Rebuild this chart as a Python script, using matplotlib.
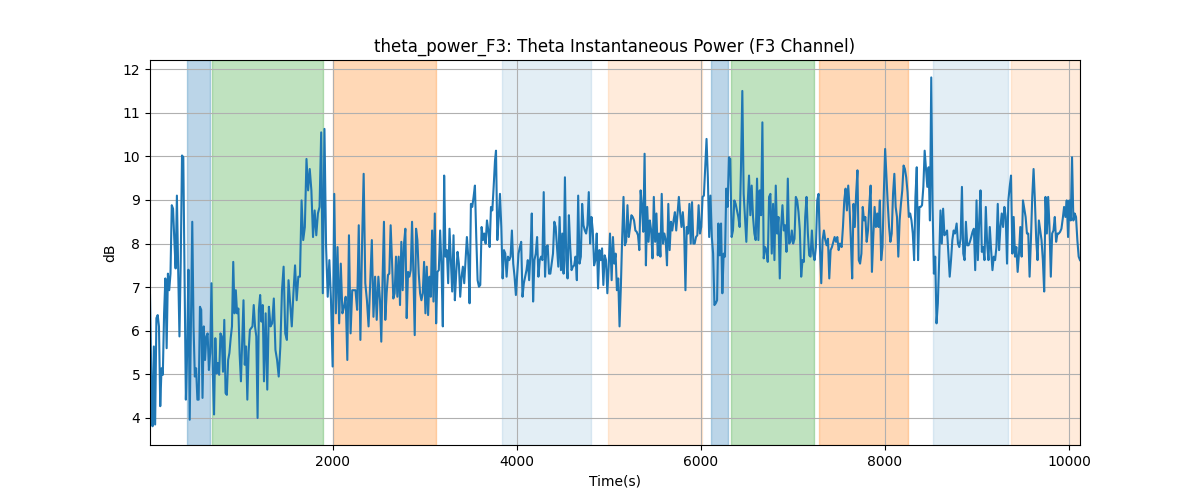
import matplotlib
matplotlib.use("Agg")
import matplotlib.pyplot as plt
import numpy as np

# theta power in dB in eight consecutive chunks
seg1 = [6.82, 4.95, 3.81, 5.64, 3.85, 6.29, 6.36, 6.10, 4.27, 5.14, 4.99, 6.40, 7.20, 5.60, 7.31, 6.93,
        7.31, 8.88, 8.80, 8.08, 7.43, 9.10, 7.40, 5.87, 7.60, 10.02, 9.98, 7.24, 4.42, 5.49, 7.40, 3.96,
        6.25, 8.50, 6.10, 4.95, 5.14, 4.42, 4.42, 6.55, 6.48, 4.46, 6.10, 5.33, 5.87, 5.94, 5.10, 5.49,
        7.09, 5.10, 4.08, 5.83, 5.02, 5.26, 4.99, 5.94, 5.87, 5.06, 6.25, 4.57, 4.53, 5.33, 5.49, 5.83,
        6.10, 7.58, 6.40, 6.93, 6.40, 6.51, 5.45, 4.84, 5.79, 6.70, 5.22, 5.64, 4.42, 5.52, 6.02, 6.06,
        6.10, 6.59, 6.10, 5.87, 4.00, 6.48, 6.82, 6.21, 6.59, 4.84]
seg2 = [6.40, 4.65, 6.55, 6.10, 6.17, 6.74, 5.56, 5.33, 4.95, 5.64, 6.93, 7.47, 5.94, 5.79, 7.16, 6.63,
        6.10, 6.86, 7.50, 6.70, 7.24, 7.24, 8.99, 8.08, 8.38, 9.94, 9.22, 9.71, 9.22, 8.15, 8.76, 8.19,
        8.69, 8.84, 10.55, 6.86, 10.63, 7.92, 6.78, 7.62, 6.70, 5.18, 9.14, 6.40, 7.92, 6.17, 7.54, 6.40,
        6.55, 6.78, 5.33, 8.19, 5.94, 6.93, 6.93, 6.93, 6.48, 8.42, 5.79, 7.96, 9.60, 7.09, 6.70, 6.10,
        7.09, 8.08, 6.32, 7.24, 6.25, 7.24, 6.70]
seg3 = [5.75, 7.24, 8.50, 6.25, 6.86, 7.28, 7.31, 8.42, 7.62, 6.74, 6.86, 7.70, 6.78, 7.70, 6.59, 8.04,
        6.93, 8.00, 8.34, 6.29, 7.35, 7.24, 7.39, 8.50, 7.31, 5.90, 8.34, 8.08, 7.31, 6.86, 6.70, 6.86,
        7.58, 6.40, 7.47, 6.36, 7.24, 6.78, 8.30, 6.67, 8.69, 6.17, 7.35, 7.39, 8.30, 7.47, 6.10, 9.56,
        7.70, 7.85, 7.09, 8.34, 7.62, 6.90, 8.19, 6.70, 7.31, 7.81, 7.54, 6.78, 7.24, 7.47, 7.09, 7.62,
        8.15, 7.70, 6.63, 8.91, 8.84, 9.07, 9.33, 8.15, 7.16, 7.01, 7.05, 8.38, 8.08, 8.23, 8.00, 8.53,
        8.30, 7.92, 8.84, 8.76, 9.30, 9.90]
seg4 = [10.13, 8.08, 8.57, 9.14, 8.38, 7.20, 7.85, 7.77, 7.24, 7.70, 7.62, 7.70, 8.30, 7.54, 7.24, 6.82,
        7.31, 7.77, 7.92, 8.04, 6.78, 7.09, 7.24, 7.39, 7.62, 7.16, 7.77, 8.69, 6.67, 7.62, 7.77, 8.15,
        7.24, 7.62, 7.70, 7.62, 9.18, 7.24, 7.92, 7.96, 7.31, 7.31, 7.54, 7.77, 8.50, 8.38, 7.92, 7.47,
        8.61, 7.39, 8.23, 7.31, 9.52, 7.62, 7.20, 8.65, 7.92, 7.39, 7.47, 7.50, 7.70, 7.16, 9.10, 7.54,
        7.70, 8.91, 8.42, 8.30, 8.23, 8.42, 9.18, 8.00, 8.61, 8.30, 7.50, 7.62, 8.23, 6.97, 7.85, 7.62,
        7.89, 7.05, 7.73, 7.62, 6.86, 7.47, 8.23]
seg5 = [7.16, 8.15, 7.54, 7.77, 6.93, 7.20, 6.10, 7.01, 8.15, 9.07, 7.96, 8.04, 8.88, 8.15, 8.38, 8.65,
        8.61, 8.53, 8.30, 8.27, 8.19, 7.85, 9.22, 8.84, 8.27, 10.06, 7.50, 8.84, 8.04, 8.53, 8.30, 7.66,
        9.07, 8.04, 8.69, 7.73, 8.23, 7.70, 9.14, 8.00, 8.23, 8.08, 7.50, 8.91, 7.85, 8.50, 8.30, 8.53,
        8.72, 8.30, 8.69, 9.07, 8.69, 8.38, 8.72, 8.30, 6.93, 8.38, 8.23, 8.91, 8.00, 8.95, 8.00, 8.00,
        8.15, 8.19, 8.88, 8.23, 8.38, 9.07, 9.10, 9.75, 10.40, 9.52, 8.15, 9.10, 8.15, 7.77, 6.59, 6.63,
        6.70, 8.46, 7.73, 8.46, 6.86, 7.77, 7.70]
seg6 = [9.26, 8.84, 9.98, 9.94, 8.15, 8.30, 8.99, 8.91, 8.76, 8.61, 8.38, 9.75, 11.50, 9.14, 8.61, 8.04,
        8.91, 9.56, 8.65, 9.33, 8.61, 8.23, 8.08, 9.49, 8.08, 9.22, 8.65, 10.78, 7.66, 7.92, 7.85, 7.58,
        9.07, 9.14, 7.77, 8.91, 7.62, 9.33, 8.23, 8.61, 7.20, 8.38, 8.88, 8.30, 8.42, 7.81, 9.49, 8.00,
        8.04, 8.30, 8.00, 8.11, 9.07, 8.99, 8.72, 8.30, 7.24, 7.62, 7.58, 8.61, 9.07, 8.23, 7.73, 7.70,
        8.30, 7.77, 7.62, 7.92, 8.99, 9.14, 7.92, 7.09, 8.08, 8.30, 8.08, 7.96, 8.11, 7.20, 7.85, 7.92,
        8.04, 8.15, 8.04, 8.15, 7.85, 8.00]
seg7 = [7.92, 8.38, 8.99, 9.26, 8.76, 9.33, 8.84, 8.08, 7.20, 8.91, 8.38, 9.14, 9.68, 7.62, 7.54, 7.77,
        8.84, 8.53, 8.61, 8.04, 8.30, 8.88, 9.33, 7.35, 8.15, 8.84, 8.38, 8.69, 8.38, 8.99, 7.62, 7.92,
        9.14, 10.17, 9.52, 8.91, 8.38, 8.04, 8.23, 9.14, 9.60, 8.84, 8.61, 7.70, 8.53, 8.91, 9.22, 9.79,
        9.71, 9.52, 9.18, 8.61, 8.69, 8.53, 8.23, 7.62, 9.07, 9.75, 7.62, 8.84, 8.84, 8.88, 9.30, 10.13,
        9.71, 9.30, 9.75, 8.53, 11.81, 8.84, 7.31, 7.70, 6.17, 6.63, 7.62, 8.76, 8.00, 8.80, 8.19, 8.23,
        8.30, 7.77, 7.24, 7.62, 8.08, 8.30, 8.23]
seg8 = [8.46, 8.00, 7.92, 8.11, 9.30, 7.77, 7.62, 8.50, 7.96, 7.96, 8.04, 8.15, 8.27, 8.34, 7.39, 8.99,
        7.62, 8.50, 9.22, 7.81, 7.92, 7.62, 8.84, 8.00, 7.62, 8.38, 7.85, 7.39, 7.70, 7.62, 7.92, 8.91,
        7.85, 8.38, 8.69, 8.38, 8.84, 8.61, 7.54, 8.99, 9.30, 9.56, 7.77, 8.61, 7.70, 7.92, 7.35, 7.77,
        8.38, 7.70, 8.99, 8.80, 8.61, 8.23, 8.23, 7.24, 8.08, 9.07, 9.71, 8.99, 8.08, 7.62, 8.53, 8.30,
        8.08, 7.62, 6.90, 9.07, 8.23, 9.07, 8.38, 7.24, 8.23, 8.30, 8.61, 8.04, 8.23, 8.23, 8.27, 8.34,
        8.57, 8.84, 8.61, 8.99, 8.15, 8.99, 8.53, 9.98, 8.53, 8.69, 8.61, 8.08, 7.70, 7.62]

# time range (s) covered by each chunk
seg_ranges = [(11, 1250), (1268, 2511), (2525, 3761), (3772, 5011),
              (5029, 6261), (6275, 7511), (7529, 8761), (8779, 10120)]

# shaded periods: (start, end, colour, alpha)
spans = [
    (413, 663, "tab:blue", 0.3),
    (685, 1891, "tab:green", 0.3),
    (2000, 3120, "tab:orange", 0.3),
    (3837, 4804, "tab:blue", 0.12),
    (4989, 6011, "tab:orange", 0.15),
    (6109, 6293, "tab:blue", 0.3),
    (6326, 7228, "tab:green", 0.3),
    (7283, 8250, "tab:orange", 0.3),
    (8522, 9337, "tab:blue", 0.12),
    (9370, 10120, "tab:orange", 0.15),
]

segs = [seg1, seg2, seg3, seg4, seg5, seg6, seg7, seg8]
t = np.concatenate([np.linspace(a, b, len(s)) for (a, b), s in zip(seg_ranges, segs)])
power = np.concatenate(segs)

fig, ax = plt.subplots(figsize=(12, 5), dpi=100)
for start, end, color, alpha in spans:
    ax.axvspan(start, end, color=color, alpha=alpha)
ax.plot(t, power, color="tab:blue", linewidth=1.5)

ax.set_xlim(t[0], t[-1])
ax.set_ylim(3.38, 12.21)
ax.set_title("theta_power_F3: Theta Instantaneous Power (F3 Channel)")
ax.set_xlabel("Time(s)")
ax.set_ylabel("dB")
ax.grid(True)

plt.savefig("out.png")
